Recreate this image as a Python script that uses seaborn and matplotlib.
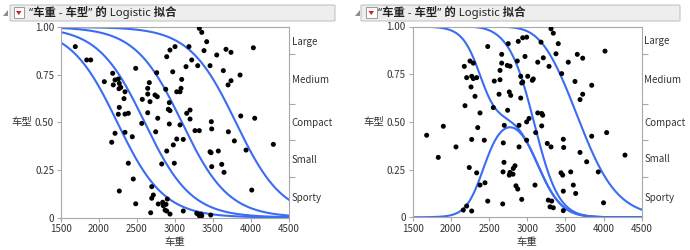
import numpy as np
import pandas as pd
import matplotlib
matplotlib.use("Agg")
import matplotlib.pyplot as plt
import seaborn as sns
from matplotlib.patches import FancyBboxPatch, Rectangle, Polygon

sns.set_theme(style="white")
plt.rcParams['font.family'] = ['Noto Sans CJK SC', 'DejaVu Sans']

# ---------------- data ----------------
title_text = "“车重 - 车型” 的 Logistic 拟合"
x_label = "车重"
y_label = "车型"
categories = ["Sporty", "Small", "Compact", "Medium", "Large"]
cat_share = [0.211, 0.196, 0.189, 0.262, 0.142]
x_ticks = [1500, 2000, 2500, 3000, 3500, 4000, 4500]
y_ticks = [0, 0.25, 0.5, 0.75, 1.0]
y_tick_labels = ["0", "0.25", "0.50", "0.75", "1.00"]

left_weight = [1688, 1838, 1891, 2070, 2180, 2211, 2254, 2188, 2267, 2286, 2263, 2342, 2329, 2267, 2254, 2342, 2386,
               2483, 2570, 2641, 2662, 2641, 2671, 2737, 2767, 2759, 2641, 2773, 2878, 2891, 2934, 3000, 2970, 2925,
               2912, 2934, 3023, 3066, 3079, 3088, 3145, 3184, 3220, 3154, 3198, 3198, 3320, 3352, 3417, 3382, 3299,
               3461, 3549, 3478, 3636, 3671, 3737, 3737, 3698, 3856, 3865, 4031, 4049, 2562, 2925, 3066,
               2167, 2211, 2342, 2438, 2386, 2451, 2267, 2483, 2746, 2825, 2694, 2715, 2694, 2680, 2780, 2838, 2882,
               2846, 2899, 2869, 2891, 2934, 2891, 2978, 3023, 3109, 2991, 3109, 3286, 3307, 3320, 3342, 3352, 3263,
               3320, 3483, 3461, 3474, 3570, 3483, 3615, 3645, 3470, 3702, 3781, 3935, 4010, 4294]
left_pos = [0.897, 0.827, 0.827, 0.713, 0.757, 0.722, 0.727, 0.696, 0.704, 0.683, 0.676, 0.660, 0.624, 0.578, 0.542,
            0.543, 0.547, 0.783, 0.620, 0.678, 0.708, 0.648, 0.608, 0.643, 0.634, 0.760, 0.550, 0.521, 0.673, 0.844,
            0.879, 0.897, 0.765, 0.603, 0.568, 0.561, 0.660, 0.660, 0.678, 0.725, 0.792, 0.897, 0.827, 0.547, 0.564,
            0.517, 0.993, 0.972, 0.923, 0.876, 0.797, 0.797, 0.853, 0.503, 0.771, 0.883, 0.867, 0.718, 0.696, 0.748,
            0.533, 0.891, 0.521, 0.494, 0.491, 0.486,
            0.395, 0.442, 0.447, 0.424, 0.285, 0.202, 0.139, 0.072, 0.450, 0.281, 0.162, 0.118, 0.101, 0.025, 0.071,
            0.080, 0.069, 0.062, 0.097, 0.039, 0.034, 0.018, 0.349, 0.381, 0.412, 0.410, 0.285, 0.034, 0.022, 0.017,
            0.009, 0.017, 0.009, 0.456, 0.456, 0.465, 0.345, 0.340, 0.349, 0.267, 0.279, 0.237, 0.013, 0.450, 0.402,
            0.354, 0.144, 0.384]

right_weight = [2483, 2176, 2251, 2294, 2207, 2273, 2294, 2338, 2264, 2316, 2185, 2382, 2556, 2569, 2631, 2644, 2666,
                2666, 2644, 2752, 2739, 2775, 2765, 2784, 2744, 2870, 2883, 2941, 2993, 2915, 2928, 2941, 2915, 2971,
                3007, 3067, 3080, 3138, 3181, 3211, 3138, 3190, 3203, 3024, 2993, 3286, 3312, 3342, 3407, 3377, 3452,
                3538, 3656, 3727, 3626, 3727, 3692, 3845, 4019,
                1683, 1835, 1901, 2067, 2273, 2352, 2438, 2687, 2700, 2893, 2893, 2993, 3111, 3190, 3263, 3312, 3473,
                3478, 3692, 3845, 4041, 4281, 3779, 2696, 2818, 2840, 2683, 2775, 2765, 2853, 2876, 2928, 2679, 2241,
                2338, 2382, 2447, 2483, 2163, 2207, 2273, 3102, 3276, 3321, 3299, 3342, 3443, 3465, 3473, 3473, 3570,
                3604, 3635, 4000, 3931, 2814]
right_pos = [0.895, 0.791, 0.819, 0.808, 0.732, 0.739, 0.727, 0.732, 0.683, 0.634, 0.585, 0.547, 0.575, 0.714, 0.645,
             0.770, 0.854, 0.808, 0.721, 0.910, 0.796, 0.792, 0.657, 0.639, 0.561, 0.819, 0.922, 0.941, 0.944, 0.739,
             0.704, 0.709, 0.625, 0.843, 0.739, 0.718, 0.725, 0.813, 0.918, 0.836, 0.547, 0.544, 0.535, 0.518, 0.500,
             0.791, 0.988, 0.965, 0.910, 0.857, 0.753, 0.813, 0.854, 0.834, 0.712, 0.645, 0.617, 0.692, 0.871,
             0.430, 0.314, 0.477, 0.369, 0.408, 0.470, 0.404, 0.390, 0.482, 0.369, 0.482, 0.404, 0.444, 0.479, 0.387,
             0.369, 0.409, 0.366, 0.340, 0.425, 0.444, 0.326, 0.291, 0.288, 0.256, 0.270, 0.238, 0.235, 0.221, 0.165,
             0.148, 0.094, 0.070, 0.261, 0.233, 0.169, 0.181, 0.085, 0.038, 0.059, 0.033, 0.169, 0.090, 0.085, 0.055,
             0.050, 0.233, 0.221, 0.137, 0.035, 0.238, 0.169, 0.125, 0.076, 0.238, 0.226]

# ordinal logistic fit (left): common slope per 1000 lb, cut points (thousand lb)
ord_slope = 3.26
ord_cuts = [2.24, 2.60, 3.09, 3.80]

# nominal logistic fit (right): log-odds vs Medium = a + b * (weight/1000 - 3)
nom_a = {"Sporty": 0.127, "Small": -4.627, "Compact": -0.361, "Medium": 0.0, "Large": -2.628}
nom_b = {"Sporty": -5.433, "Small": -14.670, "Compact": -6.517, "Medium": 0.0, "Large": 3.874}

# ---------------- model curves ----------------
grid = np.linspace(1500, 4500, 600)
z = grid / 1000.0
left_df = pd.concat([pd.DataFrame({"w": grid, "p": 1.0 / (1.0 + np.exp(-ord_slope * (c - z))), "k": j})
                     for j, c in enumerate(ord_cuts)])

eta = np.array([nom_a[c] + nom_b[c] * (z - 3.0) for c in categories])
eta -= eta.max(axis=0)
probs = np.exp(eta)
probs /= probs.sum(axis=0)
cum = np.cumsum(probs, axis=0)
right_df = pd.concat([pd.DataFrame({"w": grid, "p": cum[j], "k": j}) for j in range(4)])

left_pts = pd.DataFrame({"w": left_weight, "p": left_pos})
right_pts = pd.DataFrame({"w": right_weight, "p": right_pos})

# ---------------- figure ----------------
BLUE = "#3a6cf4"
AX_GRAY = "#a8a8a8"
TXT = "#333333"
fig = plt.figure(figsize=(6.9, 2.5), dpi=100)
fig.patch.set_facecolor("white")

bounds = np.cumsum(cat_share)[:-1]
centers = np.cumsum(cat_share) - np.array(cat_share) / 2
W, H = 690.0, 250.0


def draw_panel(ax_px, curves, pts, hx0, hx1, arrow_x, box_x, text_x, ylab_x):
    x0, y_top, x1, y_bot = ax_px
    ax = fig.add_axes([x0 / W, 1 - y_bot / H, (x1 - x0) / W, (y_bot - y_top) / H])
    sns.lineplot(data=curves, x="w", y="p", hue="k", palette=[BLUE] * 4, legend=False,
                 estimator=None, sort=False, lw=1.5, ax=ax)
    sns.scatterplot(data=pts, x="w", y="p", color="black", s=13, edgecolor="none", ax=ax, zorder=3)
    ax.set_xlim(1500, 4500)
    ax.set_ylim(0, 1)
    ax.set_xticks(x_ticks)
    ax.set_xticklabels([str(t) for t in x_ticks], fontsize=7, color=TXT)
    ax.set_yticks(y_ticks)
    ax.set_yticklabels(y_tick_labels, fontsize=7, color=TXT)
    ax.set_xlabel(x_label, fontsize=7.5, color=TXT, labelpad=2)
    ax.set_ylabel(y_label, fontsize=7.5, color=TXT, rotation=0, va="center", ha="center")
    ax.yaxis.set_label_coords((ylab_x - x0) / (x1 - x0), 0.5)
    for s in ax.spines.values():
        s.set_color(AX_GRAY)
        s.set_linewidth(0.8)
    ax.tick_params(axis="both", which="major", length=3, width=0.8, color=AX_GRAY, pad=2,
                   bottom=True, left=True)
    # right categorical axis
    ax2 = ax.twinx()
    ax2.set_ylim(0, 1)
    ax2.set_yticks(bounds)
    ax2.set_yticklabels([])
    ax2.set_yticks(centers, minor=True)
    ax2.set_yticklabels(categories, minor=True, fontsize=7, color=TXT)
    ax2.tick_params(axis="y", which="major", length=4, width=0.8, color=AX_GRAY)
    ax2.tick_params(axis="y", which="minor", length=0, pad=2)
    for s in ax2.spines.values():
        s.set_visible(False)
    ax2.grid(False)
    # header bar
    hb = FancyBboxPatch((hx0 / W, 1 - 21 / H), (hx1 - hx0) / W, 16 / H,
                        boxstyle="round,pad=0,rounding_size=0.003", transform=fig.transFigure,
                        facecolor="#eeeeee", edgecolor="#c4c4c4", lw=0.8)
    fig.add_artist(hb)
    tri = Polygon([[arrow_x / W, 1 - 16 / H], [(arrow_x + 5) / W, 1 - 16 / H], [(arrow_x + 5) / W, 1 - 10 / H]],
                  closed=True, transform=fig.transFigure, facecolor="#8c8c8c", edgecolor="none")
    fig.add_artist(tri)
    box = Rectangle((box_x / W, 1 - 18 / H), 10.5 / W, 10.5 / H, transform=fig.transFigure,
                    facecolor="white", edgecolor="#9a9a9a", lw=0.7)
    fig.add_artist(box)
    red = Polygon([[(box_x + 2.5) / W, 1 - 11 / H], [(box_x + 8) / W, 1 - 11 / H], [(box_x + 5.25) / W, 1 - 15 / H]],
                  closed=True, transform=fig.transFigure, facecolor="#d61f1f", edgecolor="none")
    fig.add_artist(red)
    fig.text(text_x / W, 1 - 12.8 / H, title_text, fontsize=8.2, fontweight="bold", color="#222222",
             va="center", ha="left", family=["Noto Sans", "Noto Sans CJK SC"])
    return ax


draw_panel((61, 27, 289, 217.5), left_df, left_pts, 10, 335, 3.3, 13.5, 29, 22)
draw_panel((412.7, 26.5, 641.7, 217.3), right_df, right_pts, 361, 680, 355, 366, 378.5, 374)

fig.savefig("out.png", dpi=100, facecolor="white")
